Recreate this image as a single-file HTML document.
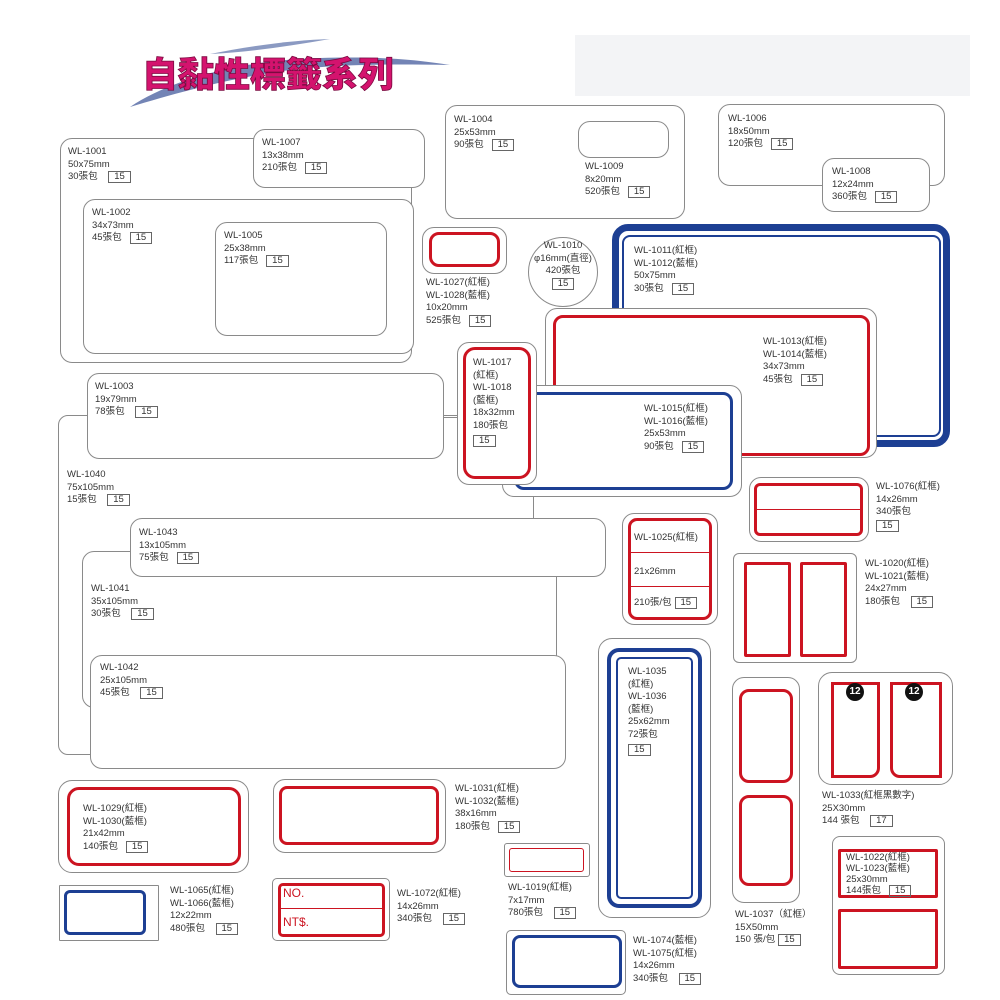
<!DOCTYPE html>
<html><head><meta charset="utf-8"><style>
body{margin:0;background:#fff;}
#c{position:relative;width:1000px;height:1000px;overflow:hidden;background:#fff;font-family:"Liberation Sans","Noto Sans CJK TC",sans-serif;}
#c div{position:absolute;box-sizing:border-box;}
.g{border:1.3px solid #8a8a8a;border-radius:12px;background:#fff;}
.r{border:3.5px solid #cc1421;border-radius:10px;background:#fff;}
.b{border:3.5px solid #1d3f93;border-radius:10px;background:#fff;}
.t{font-size:9.5px;line-height:12.6px;color:#333;white-space:nowrap;background:transparent!important;}
.n{display:inline-block;border:1px solid #666;padding:0 5px;line-height:10px;font-size:9.5px;margin-left:8px;}
</style></head><body><div id="c">

<!-- title -->
<svg style="position:absolute;left:120px;top:30px" width="340" height="80">
<path d="M10 77 C50 50 120 30 200 28 C260 26 300 30 330 35 C270 34 220 34 170 40 C110 48 60 62 10 77Z" fill="#5a6fa8" opacity="0.85"/>
<path d="M90 24 C140 14 180 10 210 9 C170 16 130 22 90 24Z" fill="#5a6fa8" opacity="0.7"/>
<text x="22" y="57" font-family="Noto Sans CJK TC, sans-serif" font-weight="900" font-size="35" fill="#d4136e" stroke="#7a0a40" stroke-width="0.8" textLength="252" lengthAdjust="spacingAndGlyphs">自黏性標籤系列</text>
</svg>
<div style="left:575px;top:35px;width:395px;height:61px;background:#f3f4f6"></div>

<!-- WL-1001 group -->
<div class="g" style="left:60px;top:138px;width:352px;height:225px"></div>
<div class="t" style="left:68px;top:146px">WL-1001<br>50x75mm<br>30張包 <span class="n">15</span></div>
<div class="g" style="left:253px;top:129px;width:172px;height:59px"></div>
<div class="t" style="left:262px;top:137px">WL-1007<br>13x38mm<br>210張包<span class="n">15</span></div>
<div class="g" style="left:83px;top:199px;width:331px;height:155px"></div>
<div class="t" style="left:92px;top:207px">WL-1002<br>34x73mm<br>45張包<span class="n">15</span></div>
<div class="g" style="left:215px;top:222px;width:172px;height:114px"></div>
<div class="t" style="left:224px;top:230px">WL-1005<br>25x38mm<br>117張包<span class="n">15</span></div>

<!-- 1004 / 1009 -->
<div class="g" style="left:445px;top:105px;width:240px;height:114px"></div>
<div class="t" style="left:454px;top:114px">WL-1004<br>25x53mm<br>90張包<span class="n">15</span></div>
<div class="g" style="left:578px;top:121px;width:91px;height:37px"></div>
<div class="t" style="left:585px;top:161px">WL-1009<br>8x20mm<br>520張包<span class="n">15</span></div>

<!-- 1006 / 1008 -->
<div class="g" style="left:718px;top:104px;width:227px;height:82px"></div>
<div class="t" style="left:728px;top:113px">WL-1006<br>18x50mm<br>120張包<span class="n">15</span></div>
<div class="g" style="left:822px;top:158px;width:108px;height:54px"></div>
<div class="t" style="left:832px;top:166px">WL-1008<br>12x24mm<br>360張包<span class="n">15</span></div>

<!-- 1027 -->
<div class="g" style="left:422px;top:227px;width:85px;height:47px"></div>
<div class="r" style="left:429px;top:232px;width:71px;height:35px"></div>
<div class="t" style="left:426px;top:277px">WL-1027(紅框)<br>WL-1028(藍框)<br>10x20mm<br>525張包<span class="n">15</span></div>

<!-- 1010 circle -->
<div class="g" style="left:528px;top:237px;width:70px;height:70px;border-radius:50%"></div>
<div class="t" style="left:528px;top:240px;width:70px;text-align:center">WL-1010<br>φ16mm(直徑)<br>420張包<br><span class="n" style="margin:0">15</span></div>

<!-- 1011 blue -->
<div class="b" style="left:612px;top:224px;width:338px;height:223px;border-width:7px;border-radius:16px"></div>
<div class="b" style="left:622px;top:235px;width:319px;height:202px;border-width:2px;border-radius:8px"></div>
<div class="t" style="left:634px;top:245px">WL-1011(紅框)<br>WL-1012(藍框)<br>50x75mm<br>30張包<span class="n">15</span></div>

<!-- 1013 -->
<div class="g" style="left:545px;top:308px;width:332px;height:150px"></div>
<div class="r" style="left:553px;top:315px;width:317px;height:141px"></div>
<div class="t" style="left:763px;top:336px">WL-1013(紅框)<br>WL-1014(藍框)<br>34x73mm<br>45張包<span class="n">15</span></div>

<!-- 1003 and 1040 -->
<div class="g" style="left:58px;top:415px;width:476px;height:340px;border-radius:10px"></div>
<div style="left:440px;top:417px;width:20px;height:1.3px;background:#8a8a8a"></div>
<div class="g" style="left:87px;top:373px;width:357px;height:86px"></div>
<div class="t" style="left:95px;top:381px">WL-1003<br>19x79mm<br>78張包 <span class="n">15</span></div>
<div class="t" style="left:67px;top:469px">WL-1040<br>75x105mm<br>15張包 <span class="n">15</span></div>

<!-- 1015 -->
<div class="g" style="left:502px;top:385px;width:240px;height:112px"></div>
<div class="b" style="left:514px;top:392px;width:219px;height:98px"></div>
<div class="t" style="left:644px;top:403px">WL-1015(紅框)<br>WL-1016(藍框)<br>25x53mm<br>90張包<span class="n">15</span></div>

<!-- 1017 -->
<div class="g" style="left:457px;top:342px;width:80px;height:143px"></div>
<div class="r" style="left:463px;top:347px;width:68px;height:132px;border-radius:12px"></div>
<div class="t" style="left:473px;top:357px">WL-1017<br>(紅框)<br>WL-1018<br>(藍框)<br>18x32mm<br>180張包<br><span class="n" style="margin:2px 0 0 0">15</span></div>

<!-- 1041, 1043, 1042 -->
<div class="g" style="left:82px;top:551px;width:475px;height:157px"></div>
<div class="t" style="left:91px;top:583px">WL-1041<br>35x105mm<br>30張包 <span class="n">15</span></div>
<div class="g" style="left:130px;top:518px;width:476px;height:59px"></div>
<div class="t" style="left:139px;top:527px">WL-1043<br>13x105mm<br>75張包<span class="n">15</span></div>
<div class="g" style="left:90px;top:655px;width:476px;height:114px"></div>
<div class="t" style="left:100px;top:662px">WL-1042<br>25x105mm<br>45張包 <span class="n">15</span></div>

<!-- 1076 -->
<div class="g" style="left:749px;top:477px;width:120px;height:65px"></div>
<div class="r" style="left:754px;top:483px;width:109px;height:53px;border-width:3px;border-radius:6px"></div>
<div style="left:756px;top:509px;width:105px;height:1px;background:#cc1421"></div>
<div class="t" style="left:876px;top:481px">WL-1076(紅框)<br>14x26mm<br>340張包<br><span class="n" style="margin:1px 0 0 0">15</span></div>

<!-- 1025 -->
<div class="g" style="left:622px;top:513px;width:96px;height:112px"></div>
<div class="r" style="left:628px;top:518px;width:84px;height:102px;border-radius:9px;border-width:3.5px"></div>
<div style="left:631px;top:552px;width:78px;height:1px;background:#cc1421"></div>
<div style="left:631px;top:586px;width:78px;height:1px;background:#cc1421"></div>
<div class="t" style="left:634px;top:532px">WL-1025(紅框)</div>
<div class="t" style="left:634px;top:566px">21x26mm</div>
<div class="t" style="left:634px;top:597px">210張/包<span class="n" style="margin-left:3px">15</span></div>

<!-- 1020 -->
<div class="g" style="left:733px;top:553px;width:124px;height:110px;border-radius:6px"></div>
<div class="r" style="left:744px;top:562px;width:47px;height:95px;border-radius:2px;border-width:3.5px"></div>
<div class="r" style="left:800px;top:562px;width:47px;height:95px;border-radius:2px;border-width:3.5px"></div>
<div class="t" style="left:865px;top:558px">WL-1020(紅框)<br>WL-1021(藍框)<br>24x27mm<br>180張包 <span class="n">15</span></div>

<!-- 1035 -->
<div class="g" style="left:598px;top:638px;width:113px;height:280px;border-radius:14px"></div>
<div class="b" style="left:607px;top:648px;width:95px;height:260px;border-radius:12px;border-width:4px"></div>
<div class="b" style="left:616px;top:657px;width:77px;height:242px;border-radius:5px;border-width:2px"></div>
<div class="t" style="left:628px;top:666px">WL-1035<br>(紅框)<br>WL-1036<br>(藍框)<br>25x62mm<br>72張包<br><span class="n" style="margin:2px 0 0 0">15</span></div>

<!-- 1037 -->
<div class="g" style="left:732px;top:677px;width:68px;height:226px;border-radius:12px"></div>
<div class="r" style="left:739px;top:689px;width:54px;height:94px;border-radius:10px"></div>
<div class="r" style="left:739px;top:795px;width:54px;height:91px;border-radius:10px"></div>
<div class="t" style="left:735px;top:909px">WL-1037（紅框）<br>15X50mm<br>150 張/包<span class="n" style="margin-left:3px">15</span></div>

<!-- 1033 -->
<div class="g" style="left:818px;top:672px;width:135px;height:113px;border-radius:14px"></div>
<div class="r" style="left:831px;top:682px;width:49px;height:96px;border-radius:0 0 10px 0;border-width:3px"></div>
<div class="r" style="left:890px;top:682px;width:52px;height:96px;border-radius:0 0 0 10px;border-width:3px"></div>
<div style="left:846px;top:683px;width:18px;height:18px;border-radius:50%;background:#111;color:#fff;font-size:10px;font-weight:bold;text-align:center;line-height:18px">12</div>
<div style="left:905px;top:683px;width:18px;height:18px;border-radius:50%;background:#111;color:#fff;font-size:10px;font-weight:bold;text-align:center;line-height:18px">12</div>
<div class="t" style="left:822px;top:790px">WL-1033(紅框黑數字)<br>25X30mm<br>144 張包 <span class="n">17</span></div>

<!-- 1022 -->
<div class="g" style="left:832px;top:836px;width:113px;height:139px;border-radius:8px"></div>
<div class="r" style="left:838px;top:849px;width:100px;height:49px;border-radius:2px"></div>
<div class="r" style="left:838px;top:909px;width:100px;height:60px;border-radius:2px"></div>
<div class="t" style="left:846px;top:852px;line-height:11px">WL-1022(紅框)<br>WL-1023(藍框)<br>25x30mm<br>144張包<span class="n">15</span></div>

<!-- 1029 -->
<div class="g" style="left:58px;top:780px;width:191px;height:93px;border-radius:14px"></div>
<div class="r" style="left:67px;top:787px;width:174px;height:79px;border-radius:12px"></div>
<div class="t" style="left:83px;top:803px">WL-1029(紅框)<br>WL-1030(藍框)<br>21x42mm<br>140張包<span class="n">15</span></div>

<!-- 1031 -->
<div class="g" style="left:273px;top:779px;width:173px;height:74px;border-radius:12px"></div>
<div class="r" style="left:279px;top:786px;width:160px;height:59px;border-radius:8px"></div>
<div class="t" style="left:455px;top:783px">WL-1031(紅框)<br>WL-1032(藍框)<br>38x16mm<br>180張包<span class="n">15</span></div>

<!-- 1019 -->
<div class="g" style="left:504px;top:843px;width:86px;height:34px;border-radius:3px"></div>
<div class="r" style="left:509px;top:848px;width:75px;height:24px;border-width:1px;border-radius:3px"></div>
<div class="t" style="left:508px;top:882px">WL-1019(紅框)<br>7x17mm<br>780張包 <span class="n">15</span></div>

<!-- 1065 -->
<div class="g" style="left:59px;top:885px;width:100px;height:56px;border-radius:1px"></div>
<div class="b" style="left:64px;top:890px;width:82px;height:45px;border-radius:6px"></div>
<div class="t" style="left:170px;top:885px">WL-1065(紅框)<br>WL-1066(藍框)<br>12x22mm<br>480張包 <span class="n">15</span></div>

<!-- 1072 -->
<div class="g" style="left:272px;top:878px;width:118px;height:63px;border-radius:5px"></div>
<div class="r" style="left:278px;top:883px;width:107px;height:54px;border-radius:5px"></div>
<div style="left:281px;top:908px;width:101px;height:1px;background:#cc1421"></div>
<div class="t" style="left:283px;top:887px;color:#cc1421;font-size:12px">NO.</div>
<div class="t" style="left:283px;top:916px;color:#cc1421;font-size:12px">NT$.</div>
<div class="t" style="left:397px;top:888px">WL-1072(紅框)<br>14x26mm<br>340張包 <span class="n">15</span></div>

<!-- 1074 -->
<div class="g" style="left:506px;top:930px;width:120px;height:65px;border-radius:5px"></div>
<div class="b" style="left:512px;top:935px;width:110px;height:53px;border-radius:8px"></div>
<div class="t" style="left:633px;top:935px">WL-1074(藍框)<br>WL-1075(紅框)<br>14x26mm<br>340張包 <span class="n">15</span></div>

</div></body></html>
